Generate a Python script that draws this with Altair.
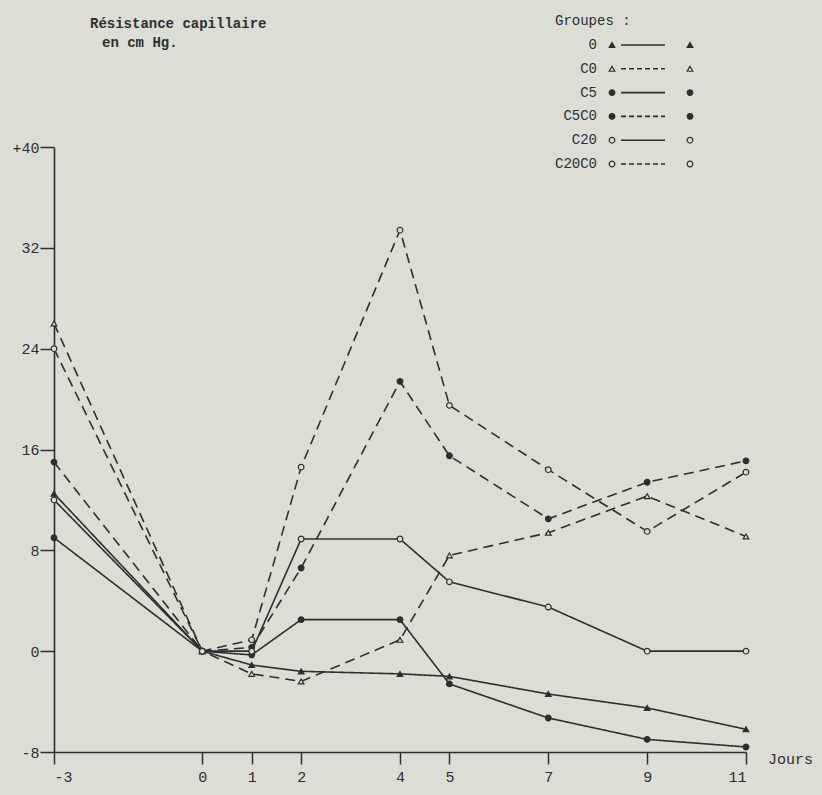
import altair as alt
import pandas as pd

ink = "#2e2e2e"
bg = "#dcddd4"
font = "Liberation Mono"

# ---- data ----
days = [-3, 0, 1, 2, 4, 5, 7, 9, 11]
groups = ["0", "C0", "C5", "C5C0", "C20", "C20C0"]
g_0 = [12.5, 0, -1.1, -1.6, -1.8, -2.0, -3.4, -4.5, -6.2]
g_C0 = [26.0, 0, -1.8, -2.4, 0.9, 7.6, 9.4, 12.3, 9.1]
g_C5 = [9.0, 0, -0.3, 2.5, 2.5, -2.6, -5.3, -7.0, -7.6]
g_C5C0 = [15.0, 0, 0.3, 6.6, 21.4, 15.5, 10.5, 13.4, 15.1]
g_C20 = [12.0, 0, 0.0, 8.9, 8.9, 5.5, 3.5, 0.0, 0.0]
g_C20C0 = [24.0, 0, 0.9, 14.6, 33.4, 19.5, 14.4, 9.5, 14.2]
y_ticks = [-8, 0, 8, 16, 24, 32, 40]

series = {"0": g_0, "C0": g_C0, "C5": g_C5, "C5C0": g_C5C0, "C20": g_C20, "C20C0": g_C20C0}
df = pd.DataFrame(
    [{"jour": d, "groupe": g, "r": v} for g in groups for d, v in zip(days, series[g])]
)
leg_df = pd.DataFrame({"groupe": groups})

# ---- styles ----
dash_range = [[1, 0], [10, 6], [1, 0], [10, 6], [1, 0], [10, 6]]
leg_dash_range = [[1, 0], [5, 3], [1, 0], [5, 3], [1, 0], [5, 3]]
shape_range = ["triangle-up", "triangle-up", "circle", "circle", "circle", "circle"]
fill_range = [ink, bg, ink, ink, bg, bg]
size_range = [32, 32, 13, 13, 18, 18]

shape_enc = alt.Shape("groupe:N", scale=alt.Scale(domain=groups, range=shape_range), legend=None)
fill_enc = alt.Fill("groupe:N", scale=alt.Scale(domain=groups, range=fill_range), legend=None)
size_enc = alt.Size("groupe:N", scale=alt.Scale(domain=groups, range=size_range), legend=None)

x_enc = alt.X(
    "jour:Q",
    scale=alt.Scale(domain=[-3, 11], nice=False, zero=False),
    axis=alt.Axis(values=days, title=None, tickSize=12, labelPadding=5,
                  labelExpr="'' + datum.value"),
)
y_enc = alt.Y(
    "r:Q",
    scale=alt.Scale(domain=[-8, 40], nice=False),
    axis=alt.Axis(
        values=y_ticks, title=None, tickSize=14, labelPadding=1,
        labelExpr="datum.value == 40 ? '+40' : '' + datum.value",
    ),
)
y_enc_noaxis = alt.Y("r:Q", scale=alt.Scale(domain=[-8, 40], nice=False), axis=None)

lines = alt.Chart(df).mark_line(color=ink, strokeWidth=1.6).encode(
    x=x_enc,
    y=y_enc,
    detail="groupe:N",
    strokeDash=alt.StrokeDash("groupe:N", scale=alt.Scale(domain=groups, range=dash_range), legend=None),
)

points = alt.Chart(df).mark_point(filled=True, stroke=ink, strokeWidth=1.2, opacity=1).encode(
    x="jour:Q", y=y_enc_noaxis, shape=shape_enc, fill=fill_enc, size=size_enc
)

# ---- legend built from the group list ----
y_leg = alt.Y("groupe:N", scale=alt.Scale(type="point", domain=groups, range=[-102, 17], padding=0), axis=None)

leg_text = alt.Chart(leg_df).mark_text(
    align="right", baseline="middle", font=font, fontSize=14, color=ink
).encode(x=alt.value(543), y=y_leg, text="groupe:N")

leg_rule = alt.Chart(leg_df).mark_rule(color=ink, strokeWidth=1.6).encode(
    x=alt.value(567), x2=alt.value(611), y=y_leg,
    strokeDash=alt.StrokeDash("groupe:N", scale=alt.Scale(domain=groups, range=leg_dash_range), legend=None),
)

leg_pts_l = alt.Chart(leg_df).mark_point(filled=True, stroke=ink, strokeWidth=1.2, opacity=1).encode(
    x=alt.value(558), y=y_leg, shape=shape_enc, fill=fill_enc, size=size_enc
)
leg_pts_r = alt.Chart(leg_df).mark_point(filled=True, stroke=ink, strokeWidth=1.2, opacity=1).encode(
    x=alt.value(636), y=y_leg, shape=shape_enc, fill=fill_enc, size=size_enc
)

groupes_title = alt.Chart(pd.DataFrame({"t": ["Groupes :"]})).mark_text(
    align="left", baseline="middle", font=font, fontSize=14, color=ink
).encode(x=alt.value(501), y=alt.value(-126), text="t:N")

title1 = alt.Chart(pd.DataFrame({"t": ["Résistance capillaire"]})).mark_text(
    align="left", baseline="middle", font=font, fontSize=14, fontWeight="bold", color=ink
).encode(x=alt.value(36), y=alt.value(-123), text="t:N")
title2 = alt.Chart(pd.DataFrame({"t": ["en cm Hg."]})).mark_text(
    align="left", baseline="middle", font=font, fontSize=14, fontWeight="bold", color=ink
).encode(x=alt.value(48), y=alt.value(-104), text="t:N")

jours = alt.Chart(pd.DataFrame({"t": ["Jours"]})).mark_text(
    align="left", baseline="middle", font=font, fontSize=15, color=ink
).encode(x=alt.value(714), y=alt.value(612), text="t:N")

chart = (
    alt.layer(lines, points, leg_rule, leg_pts_l, leg_pts_r, leg_text, groupes_title, title1, title2, jours)
    .resolve_scale(y="independent", strokeDash="independent")
    .properties(
        width=692,
        height=605,
        background=bg,
        autosize=alt.AutoSizeParams(type="none"),
        padding={"left": 54, "top": 147, "right": 76, "bottom": 43},
    )
    .configure_view(stroke=None)
    .configure_axis(
        grid=False,
        domainColor=ink,
        domainWidth=1.6,
        tickColor=ink,
        tickWidth=1.5,
        labelFont=font,
        labelFontSize=15,
        labelColor=ink,
    )
)

chart.save("out.html", embed_options={"renderer": "svg", "actions": False})
